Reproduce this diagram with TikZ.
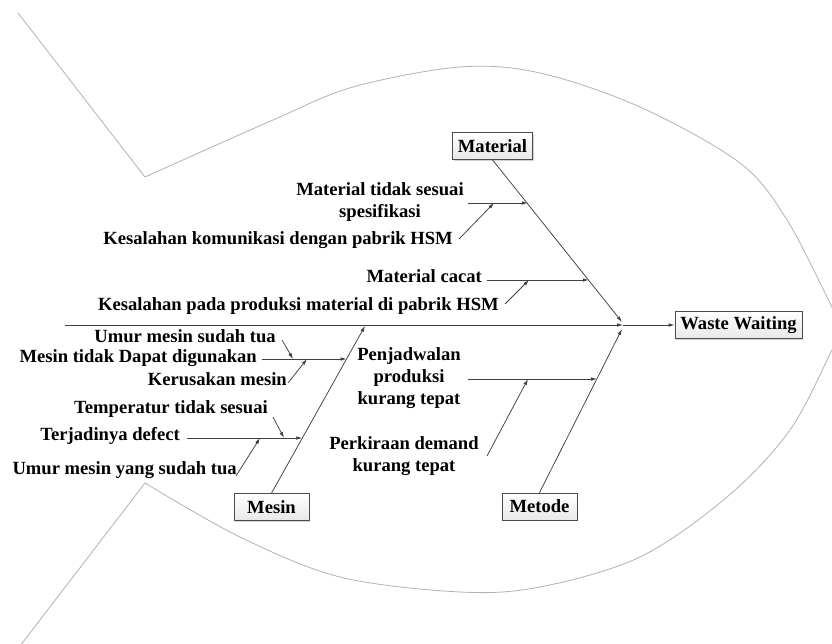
\documentclass[tikz,border=0pt]{standalone}
\usepackage{fontspec}
\setmainfont{Liberation Serif}
\usetikzlibrary{arrows.meta,shadows}
\begin{document}
\begin{tikzpicture}[x=1pt,y=-1pt,
  every node/.style={font=\bfseries\fontsize{18.6}{22}\selectfont, inner sep=0pt},
  cause/.style={anchor=mid east},
  multi/.style={align=center},
  catbox/.style={draw=gray!60!black, line width=0.7pt, top color=white, bottom color=gray!18,
    minimum height=27pt, minimum width=75pt, inner xsep=5.5pt,
    drop shadow={shadow xshift=1.2pt, shadow yshift=-1.2pt, opacity=0.35}},
  conn/.style={draw=gray!50!black, line width=0.75pt, -{Latex[length=6pt,width=3.6pt]}},
  fish/.style={draw=gray!60, line width=0.8pt}
]
\useasboundingbox (0,0) rectangle (832,644);
\fill[white] (0,0) rectangle (832,644);

% fish outline
\begin{scope}
\clip (0,0) rectangle (832,644);
\coordinate (tailA) at (18,13);
\coordinate (tailB) at (20,646);
\coordinate (jawT) at (145,177);
\coordinate (jawB) at (145,483);
\coordinate (tip) at (843,328);
\draw[fish] (tailA) -- (jawT);
\draw[fish] (jawB) -- (tailB);
\draw[fish] plot[smooth, tension=0.55] coordinates {(145,177) (273,120) (353,87) (460,67) (540,73) (640,107) (740,163) (787,220) (832,307) (843,328)};
\draw[fish] plot[smooth, tension=0.55] coordinates {(843,328) (832,350) (790,430) (727,497) (640,557) (540,587) (460,592) (340,577) (240,537) (145,483)};
\end{scope}

% category boxes and effect
\node[catbox] (mat) at (492.5,146) {Material};
\node[catbox] (mes) at (271.5,507) {Mesin};
\node[catbox] (met) at (539.5,506.5) {Metode};
\node[catbox] (ww) at (738.5,325) {Waste Waiting};

% spine and head
\coordinate (spineL) at (65,325);
\coordinate (head) at (623,325);
\coordinate (headM) at (622,322);
\coordinate (headT) at (622,329);
\coordinate (mesEnd) at (365,326);
\draw[conn] (spineL) -- (head);
\draw[conn] (head) -- (ww.west);
\draw[conn] (mat.south) -- (headM);
\draw[conn] (met.north) -- (headT);
\draw[conn] (mes.north) -- (mesEnd);

% Material causes
\node[multi] (t1) at (380,202) {Material tidak sesuai\\spesifikasi};
\node[cause] (t2) at (453,242) {Kesalahan komunikasi dengan pabrik HSM};
\node[cause] (t3) at (482,280) {Material cacat};
\node[cause] (t4) at (499,308) {Kesalahan pada produksi material di pabrik HSM};
\coordinate (a1s) at (468,203);
\coordinate (a1e) at (527.8,203);
\coordinate (a2s) at (459,239);
\coordinate (a2e) at (494,203);
\coordinate (a3s) at (487,280);
\coordinate (a3e) at (588.8,280);
\coordinate (a4s) at (505,304);
\coordinate (a4e) at (529,280);
\draw[conn] (a1s) -- (a1e);
\draw[conn] (a2s) -- (a2e);
\draw[conn] (a3s) -- (a3e);
\draw[conn] (a4s) -- (a4e);

% Mesin causes
\node[cause] (m1) at (276,340) {Umur mesin sudah tua};
\node[cause] (m2) at (257,360) {Mesin tidak Dapat digunakan};
\node[cause] (m3) at (287,383) {Kerusakan mesin};
\node[cause] (m4) at (268,411) {Temperatur tidak sesuai};
\node[cause] (m5) at (180,438) {Terjadinya defect};
\node[cause] (m6) at (237,472) {Umur mesin yang sudah tua};
\coordinate (b1s) at (262,359);
\coordinate (b1e) at (346.5,359);
\coordinate (b2s) at (282,340);
\coordinate (b2e) at (293,359);
\coordinate (b3s) at (288,383);
\coordinate (b3e) at (307,359);
\coordinate (b4s) at (187,438);
\coordinate (b4e) at (302.3,438);
\coordinate (b5s) at (273,417);
\coordinate (b5e) at (284,438);
\coordinate (b6s) at (236,476);
\coordinate (b6e) at (260,438);
\draw[conn] (b1s) -- (b1e);
\draw[conn] (b2s) -- (b2e);
\draw[conn] (b3s) -- (b3e);
\draw[conn] (b4s) -- (b4e);
\draw[conn] (b5s) -- (b5e);
\draw[conn] (b6s) -- (b6e);

% Metode causes
\node[multi] (p1) at (409,378) {Penjadwalan\\produksi\\kurang tepat};
\node[multi] (p2) at (404,456) {Perkiraan demand\\kurang tepat};
\coordinate (c1s) at (468,379);
\coordinate (c1e) at (597,379);
\coordinate (c2s) at (487,456);
\coordinate (c2e) at (528,379);
\draw[conn] (c1s) -- (c1e);
\draw[conn] (c2s) -- (c2e);
\end{tikzpicture}
\end{document}
